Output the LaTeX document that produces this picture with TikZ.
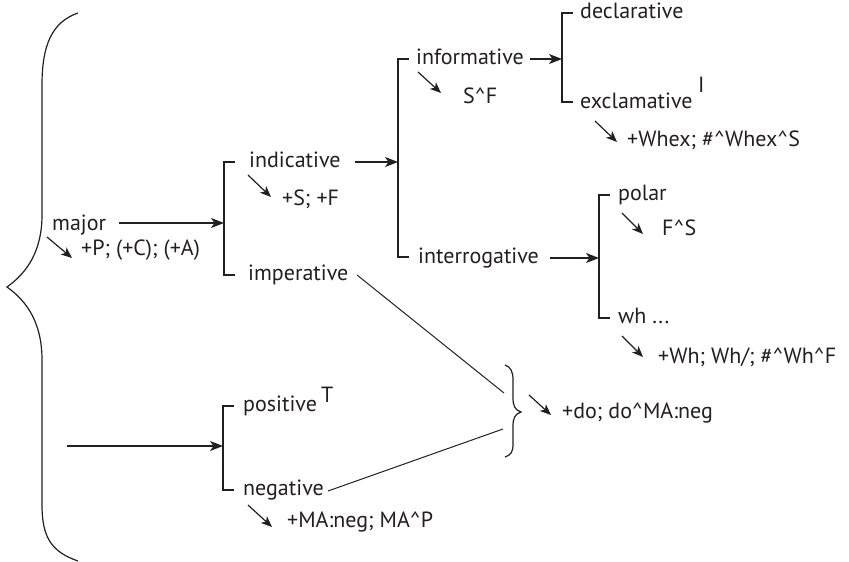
\documentclass[tikz,border=0pt]{standalone}
\usepackage{fontspec}
\setmainfont{PT Sans}
\usetikzlibrary{arrows.meta}
\definecolor{ink}{HTML}{231F20}
\begin{document}
\begin{tikzpicture}[x=1pt,y=-1pt,
  lbl/.style={anchor=base west, inner sep=0pt, font=\fontsize{22}{26}\selectfont, text=ink},
  arr/.style={draw=ink, line width=1.2pt, -{Stealth[length=13pt,width=10pt,inset=3.5pt]}},
  tip/.style={draw=ink, line width=1.2pt, -{Stealth[length=11pt,width=9pt,inset=3pt]}},
  brk/.style={draw=ink, line width=1.2pt},
  link/.style={draw=ink, line width=1pt}]
\useasboundingbox (0,0) rectangle (849,562);

% ---- large left brace
\draw[brk] (78,13) .. controls (52,22) and (42,45) .. (42,85)
  -- (42,215) .. controls (42,250) and (28,272) .. (7,287)
  .. controls (28,302) and (42,324) .. (42,360)
  -- (42,505) .. controls (42,538) and (52,552) .. (78,561);

% ---- labels
\node[lbl] (major) at (52,230) {major};
\node[lbl] (majorx) at (81,255) {+P; (+C); (+A)};
\node[lbl] (indic) at (249,167) {indicative};
\node[lbl] (indicx) at (282,205) {+S; +F};
\node[lbl] (imper) at (248,280) {imperative};
\node[lbl] (inform) at (416,64) {informative};
\node[lbl] (informx) at (463,103) {S\^{}F};
\node[lbl] (decl) at (580,19) {declarative};
\node[lbl] (excl) at (580,108) {exclamative};
\node[lbl] (exclsup) at (698,92) {I};
\node[lbl] (exclx) at (627,146) {+Whex; \#\^{}Whex\^{}S};
\node[lbl] (interr) at (418,263) {interrogative};
\node[lbl] (polar) at (618,200) {polar};
\node[lbl] (polarx) at (662,235) {F\^{}S};
\node[lbl] (wh) at (618,323) {wh ...};
\node[lbl] (whx) at (658,363) {+Wh; Wh/; \#\^{}Wh\^{}F};
\node[lbl] (pos) at (243,411) {positive};
\node[lbl] (possup) at (321,402) {T};
\node[lbl] (neg) at (243,495) {negative};
\node[lbl] (negx) at (287,527) {+MA:neg; MA\^{}P};
\node[lbl] (dox) at (562,418) {+do; do\^{}MA:neg};

% ---- brackets
\coordinate (b1t) at (224,162); \coordinate (b1b) at (224,275); \coordinate (b1m) at (224,223);
\coordinate (b2t) at (398,59);  \coordinate (b2b) at (398,257); \coordinate (b2m) at (398,162);
\coordinate (b3t) at (562,13);  \coordinate (b3b) at (562,102); \coordinate (b3m) at (562,59);
\coordinate (b4t) at (599,195); \coordinate (b4b) at (599,318); \coordinate (b4m) at (599,258);
\coordinate (b5t) at (223,406); \coordinate (b5b) at (223,490); \coordinate (b5m) at (223,446);
\foreach \b in {b1,b2,b3,b4,b5}
  \draw[brk] ([xshift=11pt]\b t) -- (\b t) -- (\b b) -- ([xshift=11pt]\b b);

% ---- small right brace
\draw[brk] (505,365) .. controls (511,367) and (513,372) .. (513,380)
  -- (513,398) .. controls (513,406) and (515,410) .. (521,412)
  .. controls (515,414) and (513,418) .. (513,426)
  -- (513,444) .. controls (513,452) and (511,455) .. (505,457);

% ---- horizontal arrows into brackets
\coordinate (majorout) at (119,223);
\coordinate (indicout) at (355,162);
\coordinate (informout) at (530,59);
\coordinate (interrout) at (550,258);
\coordinate (polout) at (67,446);
\draw[arr] (majorout) -- (b1m);
\draw[arr] (indicout) -- (b2m);
\draw[arr] (informout) -- (b3m);
\draw[arr] (interrout) -- (b4m);
\draw[arr] (polout) -- (b5m);

% ---- realisation arrows
\coordinate (m1) at (47,237);   \coordinate (m2) at (72,258);
\coordinate (i1) at (248,175);  \coordinate (i2) at (271,197);
\coordinate (f1) at (418,72);   \coordinate (f2) at (441,93);
\coordinate (e1) at (595,121);  \coordinate (e2) at (617,142);
\coordinate (p1) at (622,213);  \coordinate (p2) at (643,234);
\coordinate (w1) at (622,336);  \coordinate (w2) at (643,357);
\coordinate (n1) at (248,505);  \coordinate (n2) at (272,527);
\coordinate (d1) at (529,395);  \coordinate (d2) at (551,415);
\foreach \a/\b in {m1/m2,i1/i2,f1/f2,e1/e2,p1/p2,w1/w2,n1/n2,d1/d2}
  \draw[tip] (\a) -- (\b);

% ---- lines into the small brace
\coordinate (imperout) at (357,275);
\coordinate (negout) at (328,491);
\coordinate (bri) at (504,393);
\coordinate (brn) at (503,429);
\draw[link] (imperout) -- (bri);
\draw[link] (negout) -- (brn);
\end{tikzpicture}
\end{document}
